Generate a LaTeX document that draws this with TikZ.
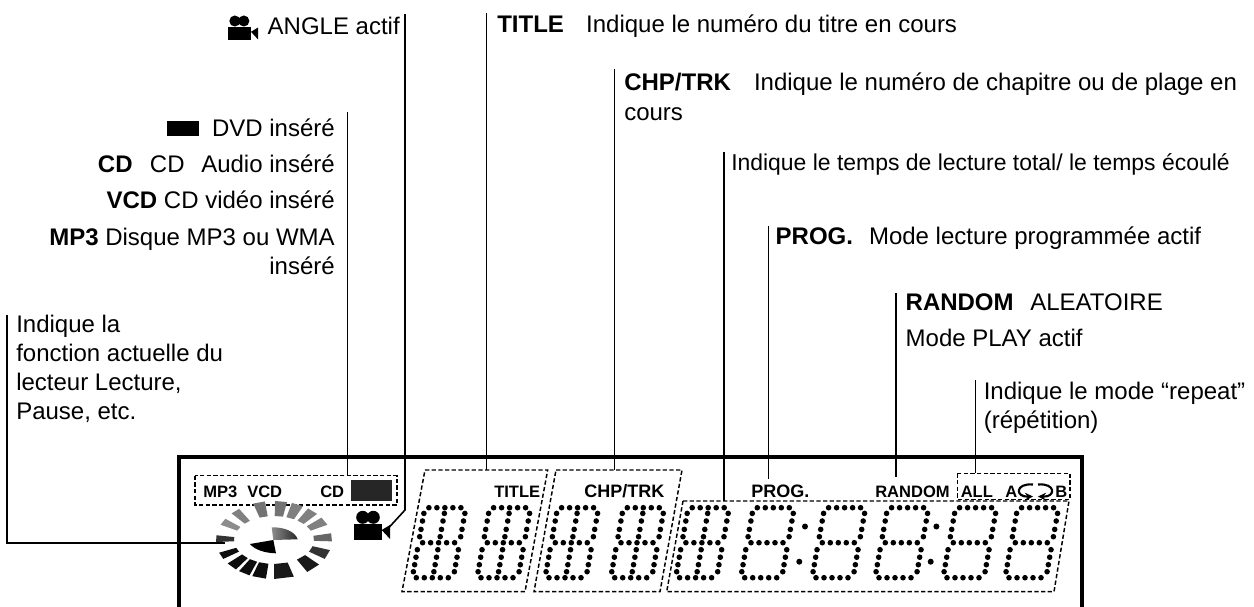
\documentclass[tikz,border=0pt]{standalone}
\usepackage{fontspec}
\usepackage{tikz}
\setmainfont{Liberation Sans}

% one dot-matrix digit, #1 = x and #2 = y of its lower left corner
\newcommand{\dotdigit}[2]{
    \foreach \v in {5.7, 13.3, 21.7, 29, 42, 49.5, 57, 64} {
        \fill ({#1+0.18*(70-\v)}, {#2-70+\v}) circle (2.8);
        \fill ({#1+41+0.18*(70-\v)}, {#2-70+\v}) circle (2.8);
    }
    \foreach \u in {4, 12, 20, 28, 36} {
        \fill ({#1+\u+12.6}, {#2-70}) circle (2.8);
        \fill ({#1+\u+6.3}, {#2-35}) circle (2.8);
        \fill ({#1+\u}, {#2}) circle (2.8);
    }
}
% the middle bar of the first digits
\newcommand{\dotbar}[2]{
    \foreach \v in {5.7, 13.3, 21.7, 29, 42, 49.5, 57, 64}
        \fill ({#1+20.5+0.18*(70-\v)}, {#2-70+\v}) circle (2.8);
}
\newcommand{\camera}[3]{
    \begin{scope}[shift={(#1,#2)}, scale=#3]
        \fill (8.4,-6.7) circle (6.5) (19,-6.7) circle (6.5);
        \fill (0,0) rectangle (27.4,16);
        \fill (27.4,6) -- (35.7,1) -- (35.7,15) -- cycle;
    \end{scope}
}

\begin{document}
\begin{tikzpicture}[x=0.75pt, y=-0.75pt,
    txt/.style={font=\fontsize{18}{20}\selectfont, inner sep=0pt},
    lbl/.style={txt, anchor=base west},
    lbr/.style={txt, anchor=base east},
    lcd/.style={font=\fontsize{13.5}{16}\selectfont\bfseries, inner sep=0pt, anchor=base west},
    lcdsmall/.style={lcd, font=\fontsize{12.4}{16}\selectfont\bfseries},
    lead/.style={line width=1.2pt},
    dashbox/.style={line width=1.1pt, dash pattern=on 3.2pt off 1.8pt}]
    \useasboundingbox (0,0) rectangle (1254,607);

    % labels
    \node[lbr] (angle) at (400,34.7) {ANGLE actif};
    \node[lbl] (title) at (497,32.7) {\textbf{TITLE}\hspace{16.7pt}Indique le numéro du titre en cours};
    \node[lbl] (chp) at (624,90.7) {\textbf{CHP/TRK}\hspace{17.3pt}Indique le numéro de chapitre ou de plage en};
    \node[lbl] (cours) at (624,120) {cours};
    \node[lbl, font=\fontsize{17.2}{20}\selectfont] (time) at (731,170.4) {Indique le temps de lecture total/ le temps écoulé};
    \node[lbl] (prog) at (775.4,244) {\textbf{PROG.}\hspace{12pt}Mode lecture programmée actif};
    \node[lbl] (random) at (905.4,310.7) {\textbf{RANDOM}\hspace{12.5pt}ALEATOIRE};
    \node[lbl] (play) at (905.4,346.7) {Mode PLAY actif};
    \node[lbl] (repeat) at (983.5,399) {Indique le mode “repeat”};
    \node[lbl] (rep) at (983.5,428) {(répétition)};
    \node[lbr] (dvd) at (335,136) {DVD inséré};
    \node[lbr] (cd) at (335,172) {\textbf{CD}\hspace{13pt}CD\hspace{12.5pt}Audio inséré};
    \node[lbr] (vcd) at (335,208) {\textbf{VCD} CD vidéo inséré};
    \node[lbr] (mp3) at (335,245) {\textbf{MP3} Disque MP3 ou WMA};
    \node[lbr] (ins) at (335,274.3) {inséré};
    \node[lbl] (fa) at (16,332.7) {Indique la};
    \node[lbl] (fb) at (16,361.7) {fonction actuelle du};
    \node[lbl] (fc) at (16,390.7) {lecteur Lecture,};
    \node[lbl] (fd) at (16,419.3) {Pause, etc.};
    \fill (167.3,120.7) rectangle (199,136);
    \camera{227.7}{26.7}{0.85}

    % display
    \draw[line width=2.4pt] (179,607) -- (179,457) -- (1082,457) -- (1082,607);
    \node[lcdsmall] (lmp3) at (203,497) {MP3};
    \node[lcdsmall] (lvcd) at (247,497) {VCD};
    \node[lcdsmall] (lcd) at (320,497) {CD};
    \fill[black!85] (350.7,480) rectangle (391.7,501);
    \node[lcdsmall] (ltitle) at (494,497) {TITLE};
    \node[lcd] (lchp) at (584,497) {CHP/TRK};
    \node[lcd] (lprog) at (751,497) {PROG.};
    \node[lcdsmall] (lrandom) at (875,497) {RANDOM};
    \node[lcdsmall] (lall) at (960.5,497) {ALL};
    \node[lcdsmall] (la) at (1005,497) {A};
    \node[lcdsmall] (lb) at (1055,497) {B};
    \draw[line width=1.6pt, -stealth] (1033,484.5) .. controls (1015,483) and (1015,497) .. (1033,496.5);
    \draw[line width=1.6pt, -stealth] (1038,484.5) .. controls (1056,483) and (1056,497) .. (1038,496.5);
    \camera{354.3}{524}{1}

    % dashed boxes
    \draw[dashbox] (195,475.7) rectangle (397,505);
    \draw[dashbox] (425,470) -- (547.7,470) -- (525,591.7) -- (402,591.7) -- cycle;
    \draw[dashbox] (556,470) -- (682,470) -- (660,591.7) -- (534,591.7) -- cycle;
    \draw[dashbox] (683,501) -- (1069,501) -- (1054,591.7) -- (666.7,591.7) -- cycle;
    \draw[dashbox] (957.3,473.3) rectangle (1070,499.3);

    % digits
    \foreach \x in {412.3, 477, 545, 610.7, 675.6}
        \dotbar{\x}{577.7};
    \foreach \x in {412.3, 477, 545, 610.7, 675.6, 740.7, 812, 875, 943, 1005}
        \dotdigit{\x}{577.7};
    \foreach \x in {799.3, 930.7} {
        \fill (\x+5.7,526.5) circle (3);
        \fill (\x,561.7) circle (3);
    }

    % disc
    \foreach \a/\g/\w in {178/80/5, 152/45/5, 132/50/5, 105/55/6, 83/55/6, 66/50/6, 48/50/6, 29/50/6, 4/60/6,
                          -22/80/7, -47/90/8, -80/90/10, -105/95/7, -121/95/6, -137/95/6, -156/95/5}
        \fill[black!\g] ({274+40*cos(\a-\w)},{540-24*sin(\a-\w)}) -- ({274+58*cos(\a-\w)},{540-39*sin(\a-\w)})
            -- ({274+58*cos(\a+\w)},{540-39*sin(\a+\w)}) -- ({274+40*cos(\a+\w)},{540-24*sin(\a+\w)}) -- cycle;
    \shade[left color=black!45, right color=black!85] (273.3,540) -- (271.7,527.3) .. controls (283,527) and (295,531) .. (297.7,539.3) -- cycle;
    \fill (273.3,540) -- (250,544) .. controls (255,550) and (265,553) .. (276,553.3) -- cycle;

    % leaders
    \coordinate (angletop) at (405,14);
    \coordinate (anglebend) at (405,510);
    \coordinate (camtip) at (386,530.7);
    \coordinate (dvdtop) at (347.5,112);
    \coordinate (dvdend) at (347.5,475.7);
    \coordinate (titletop) at (486.5,13);
    \coordinate (titleend) at (486.5,470);
    \coordinate (chptop) at (614.5,69);
    \coordinate (chpend) at (614.5,470);
    \coordinate (timetop) at (724,152);
    \coordinate (timeend) at (724,501);
    \coordinate (progtop) at (768.5,226);
    \coordinate (progend) at (768.5,479);
    \coordinate (randomtop) at (896,293);
    \coordinate (randomend) at (896,477);
    \coordinate (repeattop) at (975.5,380);
    \coordinate (repeatend) at (975.5,473.3);
    \coordinate (functop) at (7,315);
    \coordinate (funcbend) at (7,543);
    \coordinate (funcend) at (225,543);
    \draw[lead] (angletop) -- (anglebend) -- (camtip);
    \draw[lead] (dvdtop) -- (dvdend);
    \draw[lead] (titletop) -- (titleend);
    \draw[lead] (chptop) -- (chpend);
    \draw[lead] (timetop) -- (timeend);
    \draw[lead] (progtop) -- (progend);
    \draw[lead] (randomtop) -- (randomend);
    \draw[lead] (repeattop) -- (repeatend);
    \draw[lead] (functop) -- (funcbend) -- (funcend);
\end{tikzpicture}
\end{document}
